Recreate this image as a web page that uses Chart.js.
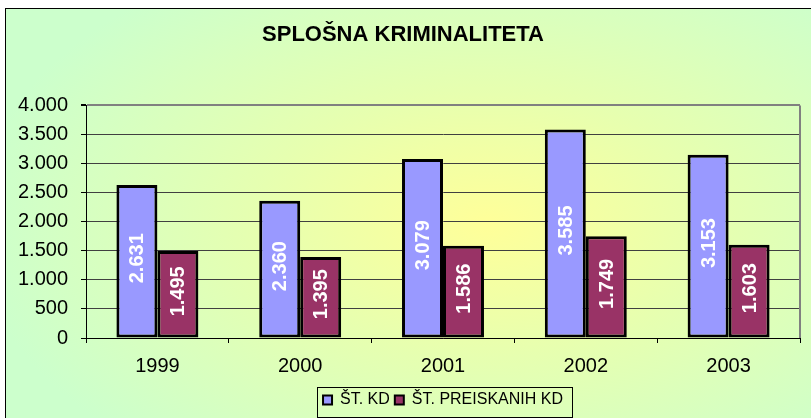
<!DOCTYPE html>
<html>
<head>
<meta charset="utf-8">
<script src="https://cdn.jsdelivr.net/npm/chart.js@4"></script>
<style>
  html, body { margin: 0; padding: 0; background: #fff; overflow: hidden; }
  #frame {
    position: absolute; left: 5px; top: 8px;
    width: 830px; height: 430px;
    border-left: 1px solid #000; border-top: 1px solid #000;
    background: radial-gradient(ellipse 62% 70% at 58% 50%, #FFFF99 0%, #E6FFB0 45%, #CCFFCC 100%);
  }
  #wrap { position: absolute; left: 0; top: 0; width: 805px; height: 409px; }
</style>
</head>
<body>
<div id="frame"><div id="wrap"><canvas id="kriminal"></canvas></div></div>
<script>
const leta = ["1999", "2000", "2001", "2002", "2003"];
const stKD = [2631, 2360, 3079, 3585, 3153];
const stPreiskanih = [1495, 1395, 1586, 1749, 1603];
const nazivi = ["ŠT. KD", "ŠT. PREISKANIH KD"];

const pisava = "'Liberation Sans', Arial, sans-serif";

function tisoc(v) {
  return String(v).replace(/\B(?=(\d{3})+(?!\d))/g, ".");
}

// napisi v stolpcih (zasukani)
const napisiStolpcev = {
  id: "napisiStolpcev",
  afterDatasetsDraw(chart) {
    const ctx = chart.ctx;
    ctx.save();
    ctx.fillStyle = "#ffffff";
    ctx.font = "bold 20px " + pisava;
    ctx.textAlign = "center";
    ctx.textBaseline = "middle";
    chart.data.datasets.forEach((ds, i) => {
      chart.getDatasetMeta(i).data.forEach((bar, j) => {
        const cy = (bar.y + bar.base) / 2 - 3;
        ctx.save();
        ctx.translate(bar.x + 1, cy);
        ctx.rotate(-Math.PI / 2);
        ctx.fillText(tisoc(ds.data[j]), 0, 0);
        ctx.restore();
      });
    });
    ctx.restore();
  },
};

// desni rob risalne ploskve in okvir legende
const okvirji = {
  id: "okvirji",
  afterDraw(chart) {
    const ctx = chart.ctx;
    const a = chart.chartArea;
    ctx.save();
    ctx.strokeStyle = "#808080";
    ctx.lineWidth = 2;
    ctx.beginPath();
    ctx.moveTo(a.right, a.top);
    ctx.lineTo(a.right, a.bottom);
    ctx.stroke();

    const lg = chart.legend;
    const hb = lg.legendHitBoxes;
    if (hb && hb.length) {
      const x1 = hb[0].left - 6;
      const last = hb[hb.length - 1];
      const x2 = last.left + last.width + 9;
      ctx.strokeStyle = "#000";
      ctx.lineWidth = 1;
      ctx.strokeRect(Math.round(x1) + 0.5, Math.round(lg.top) + 0.5, Math.round(x2 - x1), Math.round(lg.bottom - lg.top) - 1);
    }
    ctx.restore();
  },
};

const ctx = document.getElementById("kriminal").getContext("2d");
const chart_kriminal = new Chart(ctx, {
  type: "bar",
  data: {
    labels: leta,
    datasets: [
      {
        label: nazivi[0],
        data: stKD,
        backgroundColor: "#9999FF",
        borderColor: "#000000",
        borderWidth: 3,
        borderSkipped: false,
      },
      {
        label: nazivi[1],
        data: stPreiskanih,
        backgroundColor: "#993366",
        borderColor: "#000000",
        borderWidth: 3,
        borderSkipped: false,
      },
    ],
  },
  options: {
    responsive: true,
    maintainAspectRatio: false,
    animation: false,
    categoryPercentage: 0.574,
    barPercentage: 1,
    layout: { padding: { left: 0, right: 11, top: 0, bottom: 0 } },
    plugins: {
      tooltip: { enabled: false },
      title: {
        display: true,
        text: "SPLOŠNA KRIMINALITETA",
        color: "#000",
        font: { family: pisava, size: 22, weight: "bold" },
        padding: { top: 13, bottom: 57 },
      },
      legend: {
        position: "bottom",
        fullSize: false,
        labels: {
          color: "#000",
          font: { family: pisava, size: 16 },
          boxWidth: 9,
          boxHeight: 9,
          padding: 5,
          generateLabels(chart) {
            return chart.data.datasets.map((ds, i) => ({
              text: ds.label,
              fillStyle: ds.backgroundColor,
              strokeStyle: "#000",
              lineWidth: 2,
              datasetIndex: i,
              hidden: false,
            }));
          },
        },
      },
    },
    scales: {
      x: {
        afterFit(scale) { scale.height = 49; },
        grid: {
          offset: true,
          drawOnChartArea: false,
          drawTicks: true,
          tickLength: 5,
          tickColor: "#000",
        },
        border: { color: "#000", width: 1 },
        ticks: {
          color: "#000",
          font: { family: pisava, size: 20 },
          padding: 11,
        },
      },
      y: {
        min: 0,
        max: 4000,
        afterFit(scale) { scale.width = 80; },
        grid: {
          color: (c) => (c.tick && c.tick.value === 4000 ? "#808080" : "#404040"),
          lineWidth: (c) => (c.tick && c.tick.value === 4000 ? 2 : 1),
          tickLength: 5,
          tickColor: "#000",
        },
        border: { color: "#000", width: 1 },
        ticks: {
          stepSize: 500,
          color: "#000",
          font: { family: pisava, size: 20 },
          padding: 13,
          callback: (v) => tisoc(v),
        },
      },
    },
  },
  plugins: [napisiStolpcev, okvirji],
});
</script>
</body>
</html>
